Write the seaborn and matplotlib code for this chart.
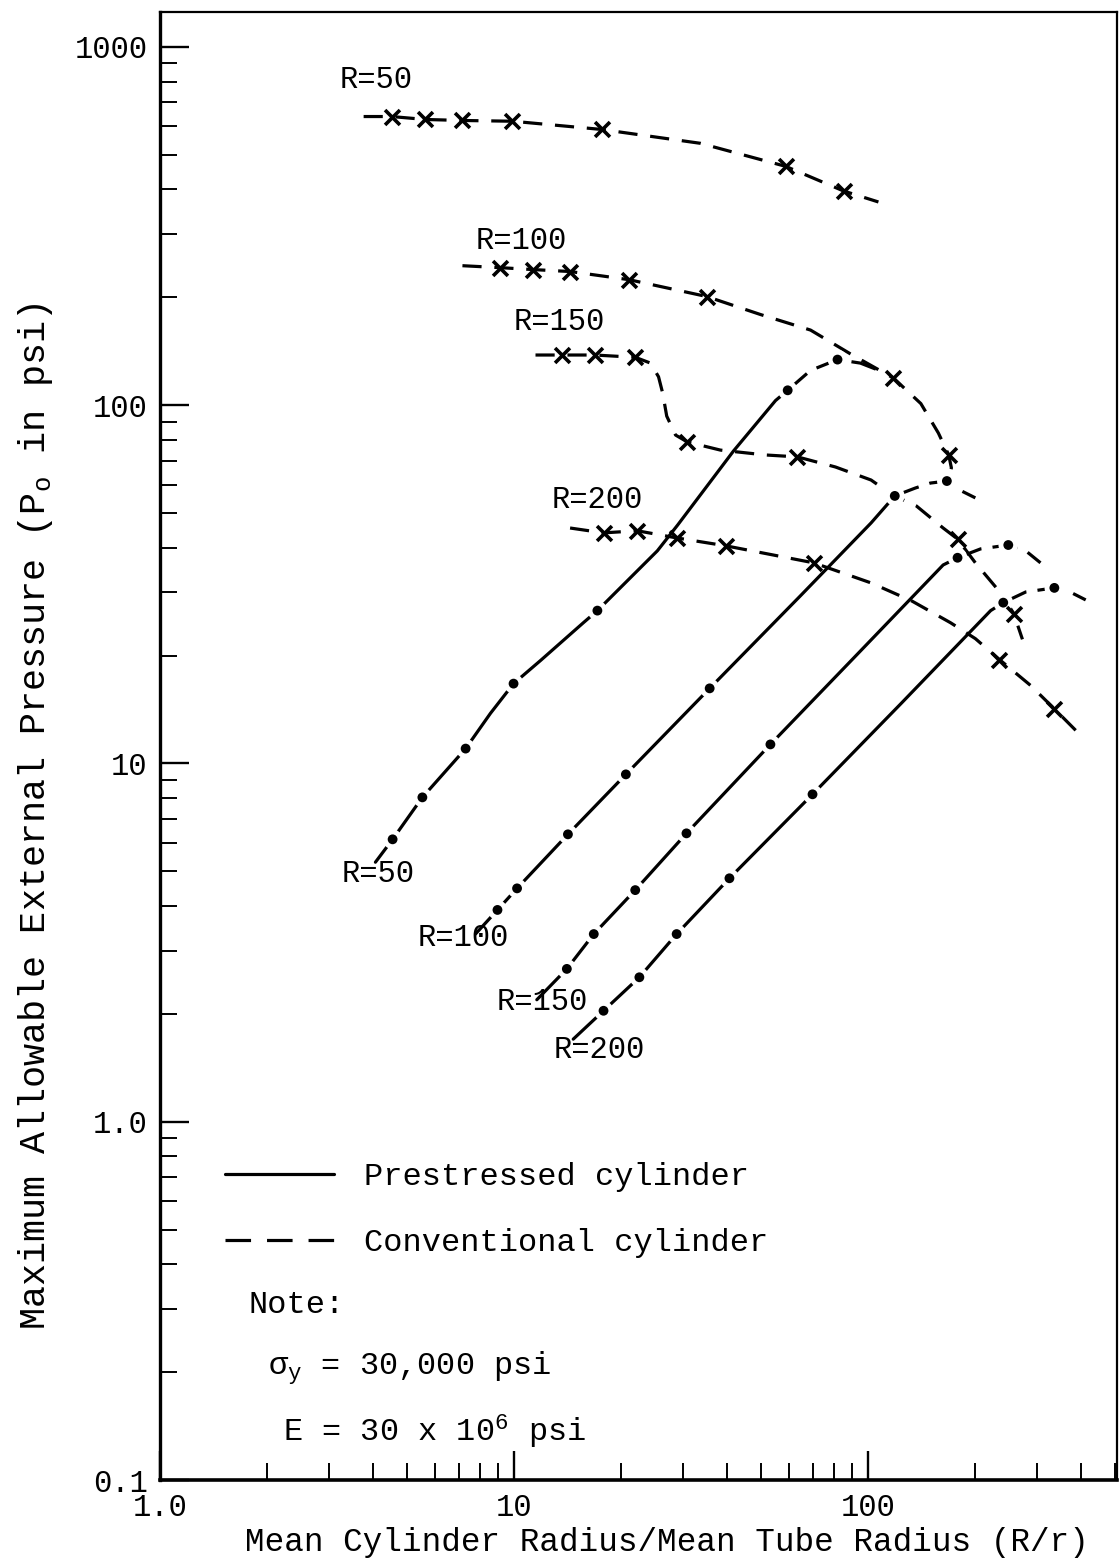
import matplotlib
matplotlib.use("Agg")
import matplotlib.pyplot as plt
from matplotlib.lines import Line2D
from matplotlib.ticker import LogLocator, NullFormatter, FixedLocator, FixedFormatter
import seaborn as sns

# ---------------- data ----------------
# Conventional cylinder curves (dashed, x markers)
CONV_R50_X = [3.76, 4.51, 5.62, 7.15, 9.90, 17.7, 33.6, 58.5, 85.3, 107]
CONV_R50_Y = [639, 639, 627, 623, 620, 588, 538, 464, 396, 369]
CONV_R50_MX = [4.51, 5.62, 7.15, 9.90, 17.7, 58.5, 85.3]
CONV_R50_MY = [639, 627, 623, 620, 588, 464, 396]

CONV_R100_X = [7.15, 9.10, 11.3, 14.4, 21.1, 35.0, 49.7, 68.8, 89.2, 118, 141, 158, 169, 172, 168]
CONV_R100_Y = [245, 242, 239, 236, 224, 201, 179, 162, 139, 119, 101, 83.6, 72.6, 66.8, 61.0]
CONV_R100_MX = [9.10, 11.3, 14.4, 21.1, 35.0, 118, 169]
CONV_R100_MY = [242, 239, 236, 224, 201, 119, 72.6]

CONV_R150_X = [11.5, 13.7, 16.9, 22.0, 24.3, 25.6, 26.3, 27.0, 28.6, 30.9, 38.3, 51.3,
               63.2, 80.9, 102, 117, 137, 163, 179, 201, 237, 258, 273]
CONV_R150_Y = [138, 138, 138, 136, 131, 120, 108, 93.2, 82.5, 78.9, 74.9, 72.6,
               71.7, 67.2, 61.8, 56.2, 52.3, 45.4, 42.3, 36.3, 29.9, 26.2, 22.2]
CONV_R150_MX = [13.7, 16.9, 22.0, 30.9, 63.2, 179, 258]
CONV_R150_MY = [138, 138, 136, 78.9, 71.7, 42.3, 26.2]

CONV_R200_X = [14.4, 17.9, 22.3, 28.8, 39.6, 70.2, 102, 133, 171, 201, 235, 288, 336, 398]
CONV_R200_Y = [45.4, 44.0, 44.6, 42.6, 40.5, 36.3, 31.9, 28.4, 24.7, 22.3, 19.5, 16.5, 14.2, 12.0]
CONV_R200_MX = [17.9, 22.3, 28.8, 39.6, 70.2, 235, 336]
CONV_R200_MY = [44.0, 44.6, 42.6, 40.5, 36.3, 19.5, 14.2]

# Prestressed cylinder curves (solid part, dashed peak arc, dot markers)
PRE_R50_X = [4.06, 4.54, 5.51, 7.30, 8.58, 9.97, 11.9, 15.7, 17.2, 25.4, 29.0, 41.7, 54.8, 59.3]
PRE_R50_Y = [5.30, 6.14, 8.04, 11.0, 13.8, 16.7, 19.4, 24.7, 26.7, 39.2, 46.3, 74.5, 103, 110]
PRE_R50_ARC_X = [59.3, 68.8, 82.0, 95.2, 112]
PRE_R50_ARC_Y = [110, 125, 134, 131, 123]
PRE_R50_DX = [4.54, 5.51, 7.30, 9.97, 17.2, 59.3, 82.0]
PRE_R50_DY = [6.14, 8.04, 11.0, 16.7, 26.7, 110, 134]

PRE_R100_X = [7.78, 8.98, 10.2, 14.2, 20.7, 35.7, 64.5, 102, 119]
PRE_R100_Y = [3.34, 3.90, 4.48, 6.34, 9.32, 16.2, 29.4, 46.9, 55.8]
PRE_R100_ARC_X = [119, 136, 150, 167, 172, 201]
PRE_R100_ARC_Y = [55.8, 58.7, 60.6, 61.4, 59.5, 55.1]
PRE_R100_DX = [8.98, 10.2, 14.2, 20.7, 35.7, 119, 167]
PRE_R100_DY = [3.90, 4.48, 6.34, 9.32, 16.2, 55.8, 61.4]

PRE_R150_X = [11.6, 14.1, 16.8, 22.0, 30.7, 53.0, 95.2, 163, 179]
PRE_R150_Y = [2.19, 2.67, 3.34, 4.43, 6.38, 11.3, 20.6, 35.8, 37.5]
PRE_R150_ARC_X = [179, 208, 249, 279, 307]
PRE_R150_ARC_Y = [37.5, 39.7, 40.7, 39.2, 36.3]
PRE_R150_DX = [14.1, 16.8, 22.0, 30.7, 53.0, 179, 249]
PRE_R150_DY = [2.67, 3.34, 4.43, 6.38, 11.3, 37.5, 40.7]

PRE_R200_X = [14.7, 17.9, 22.6, 28.8, 40.6, 69.7, 124, 222, 241]
PRE_R200_Y = [1.70, 2.04, 2.53, 3.34, 4.78, 8.20, 14.7, 26.7, 28.1]
PRE_R200_ARC_X = [241, 279, 336, 372, 412]
PRE_R200_ARC_Y = [28.1, 30.1, 30.9, 30.1, 28.6]
PRE_R200_DX = [17.9, 22.6, 28.8, 40.6, 69.7, 241, 336]
PRE_R200_DY = [2.04, 2.53, 3.34, 4.78, 8.20, 28.1, 30.9]

# Curve labels: text, x, y
CURVE_LABELS = ["R=50", "R=100", "R=150", "R=200", "R=50", "R=100", "R=150", "R=200"]
CURVE_LABEL_X = [4.09, 10.5, 13.4, 17.2, 4.12, 7.20, 12.0, 17.4]
CURVE_LABEL_Y = [810, 287, 171, 54.4, 4.91, 3.25, 2.16, 1.59]

X_TICKS = [1, 10, 100]
X_TICK_LABELS = ["1.0", "10", "100"]
Y_TICKS = [0.1, 1, 10, 100, 1000]
Y_TICK_LABELS = ["0.1", "1.0", "10", "100", "1000"]

LEGEND_LABELS = ["Prestressed cylinder", "Conventional cylinder"]
NOTE_LINES = ["Note:", r"$\sigma_{\mathrm{y}}$ = 30,000 psi", r"E = 30 x 10$^{6}$ psi"]

# ---------------- style ----------------
sns.set_theme(style="ticks")
plt.rcParams["font.family"] = ["Liberation Mono", "DejaVu Sans"]
plt.rcParams["mathtext.fontset"] = "custom"
plt.rcParams["mathtext.rm"] = "Liberation Mono"
plt.rcParams["mathtext.it"] = "Liberation Mono"
plt.rcParams["mathtext.sf"] = "Liberation Mono"
for k in ["text.color", "axes.labelcolor", "xtick.color", "ytick.color", "axes.edgecolor"]:
    plt.rcParams[k] = "black"

W_PX, H_PX = 1119, 1559
fig = plt.figure(figsize=(W_PX / 100, H_PX / 100), dpi=100)
fig.patch.set_facecolor("white")
ax = fig.add_axes([160 / W_PX, 1 - 1480 / H_PX, (1117 - 160) / W_PX, (1480 - 12) / H_PX])
ax.set_facecolor("white")
ax.set_xscale("log")
ax.set_yscale("log")

LW = 2.3
CONV_DASH = (0, (6, 4))
ARC_DASH = (0, (8, 3.5))


def draw_line(x, y, ls):
    sns.lineplot(x=x, y=y, ax=ax, sort=False, estimator=None, color="black",
                 linewidth=LW, linestyle=ls, zorder=2)


def draw_dots(x, y):
    sns.scatterplot(x=x, y=y, ax=ax, s=200, color="white", edgecolor="none",
                    zorder=3, legend=False)
    sns.scatterplot(x=x, y=y, ax=ax, s=50, color="black", edgecolor="none",
                    zorder=4, legend=False)


def draw_crosses(x, y):
    sns.scatterplot(x=x, y=y, ax=ax, marker="x", s=115, color="black",
                    linewidth=2.6, zorder=5, legend=False)


# conventional
for cx, cy, mx, my in [
    (CONV_R50_X, CONV_R50_Y, CONV_R50_MX, CONV_R50_MY),
    (CONV_R100_X, CONV_R100_Y, CONV_R100_MX, CONV_R100_MY),
    (CONV_R150_X, CONV_R150_Y, CONV_R150_MX, CONV_R150_MY),
    (CONV_R200_X, CONV_R200_Y, CONV_R200_MX, CONV_R200_MY),
]:
    draw_line(cx, cy, CONV_DASH)
    draw_crosses(mx, my)

# prestressed
for px_, py_, ax_, ay_, dx, dy in [
    (PRE_R50_X, PRE_R50_Y, PRE_R50_ARC_X, PRE_R50_ARC_Y, PRE_R50_DX, PRE_R50_DY),
    (PRE_R100_X, PRE_R100_Y, PRE_R100_ARC_X, PRE_R100_ARC_Y, PRE_R100_DX, PRE_R100_DY),
    (PRE_R150_X, PRE_R150_Y, PRE_R150_ARC_X, PRE_R150_ARC_Y, PRE_R150_DX, PRE_R150_DY),
    (PRE_R200_X, PRE_R200_Y, PRE_R200_ARC_X, PRE_R200_ARC_Y, PRE_R200_DX, PRE_R200_DY),
]:
    draw_line(px_, py_, "-")
    draw_line(ax_, ay_, ARC_DASH)
    draw_dots(dx, dy)

# curve labels
for t, lx, ly in zip(CURVE_LABELS, CURVE_LABEL_X, CURVE_LABEL_Y):
    ax.text(lx, ly, t, ha="center", va="center", fontsize=22, zorder=6)

# axes
ax.set_xlim(1, 505)
ax.set_ylim(0.1, 1251)
ax.xaxis.set_major_locator(FixedLocator(X_TICKS))
ax.xaxis.set_major_formatter(FixedFormatter(X_TICK_LABELS))
ax.yaxis.set_major_locator(FixedLocator(Y_TICKS))
ax.yaxis.set_major_formatter(FixedFormatter(Y_TICK_LABELS))
ax.xaxis.set_minor_locator(LogLocator(base=10, subs=range(2, 10), numticks=20))
ax.yaxis.set_minor_locator(LogLocator(base=10, subs=range(2, 10), numticks=20))
ax.xaxis.set_minor_formatter(NullFormatter())
ax.yaxis.set_minor_formatter(NullFormatter())
ax.tick_params(which="major", direction="in", length=21, width=1.7, labelsize=22,
               pad=9, top=False, right=False)
ax.tick_params(which="minor", direction="in", length=12, width=1.4, top=False, right=False)
for side, lw in [("left", 2.4), ("bottom", 2.6), ("top", 1.6), ("right", 1.6)]:
    ax.spines[side].set_linewidth(lw)
    ax.spines[side].set_color("black")

ax.set_xlabel("Mean Cylinder Radius/Mean Tube Radius (R/r)", fontsize=23.5)
ax.xaxis.set_label_coords(0.53, -0.032)
ax.set_ylabel(r"Maximum Allowable External Pressure (P$_{\mathrm{o}}$ in psi)", fontsize=26.5)
ax.yaxis.set_label_coords(-0.110, 0.452)

# legend
handles = [Line2D([], [], color="black", lw=LW, ls="-"),
           Line2D([], [], color="black", lw=LW, ls=(0, (8, 5)))]
ax.legend(handles, LEGEND_LABELS, loc="center left", bbox_to_anchor=(0.068, 0.1838),
          frameon=False, fontsize=23, handlelength=3.4, handletextpad=0.95,
          labelspacing=1.13, borderpad=0, borderaxespad=0)

# note
ax.text(0.092, 0.119, NOTE_LINES[0], transform=ax.transAxes, ha="left", va="center", fontsize=23)
ax.text(0.113, 0.0763, NOTE_LINES[1], transform=ax.transAxes, ha="left", va="center", fontsize=23)
ax.text(0.1285, 0.0327, NOTE_LINES[2], transform=ax.transAxes, ha="left", va="center", fontsize=23)

fig.savefig("out.png", dpi=100)
